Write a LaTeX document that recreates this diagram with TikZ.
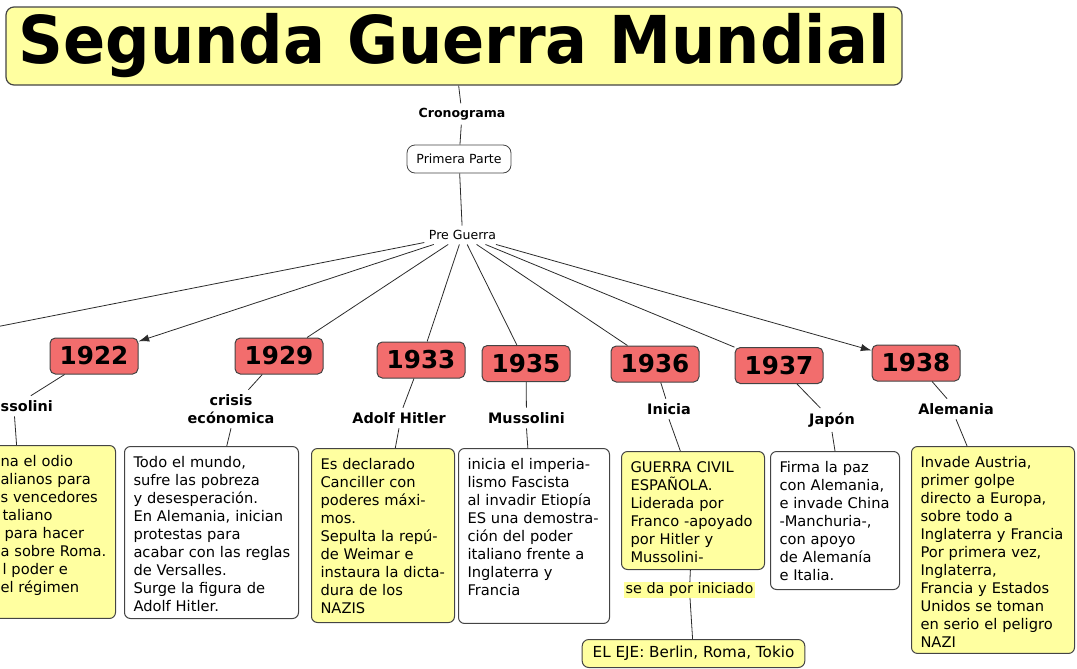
\documentclass[tikz,border=0pt]{standalone}
\usepackage{fontspec}
\setmainfont{DejaVu Sans}
\usetikzlibrary{arrows.meta}
\definecolor{yelc}{HTML}{FFFFA0}
\definecolor{hlc}{HTML}{FFFF99}
\definecolor{redc}{HTML}{F26D6D}
\definecolor{edgec}{HTML}{444444}
\definecolor{linec}{HTML}{2B2B2B}

\begin{document}
\hyphenpenalty=10000
\exhyphenpenalty=10000
\begin{tikzpicture}[x=0.75pt,y=-0.75pt,
      box/.style={draw=edgec,line width=0.75pt,rounded corners=4.5pt,anchor=north west,align=left,inner xsep=6.75pt,inner ysep=0pt,text height=16.1pt,font=\fontsize{11}{13.5}\selectfont},
      ybox/.style={box,fill=yelc},
      wbox/.style={box,fill=white},
      yearbox/.style={draw=edgec,fill=redc,line width=0.75pt,rounded corners=4pt,minimum width=66pt,minimum height=27pt,inner sep=0pt,font=\fontsize{18.5}{20}\selectfont\bfseries},
      topic/.style={align=center,font=\fontsize{10.8}{13.5}\selectfont\bfseries},
      small/.style={font=\fontsize{9.4}{11}\selectfont},
      conn/.style={draw=linec,line width=0.6pt},
      >={Latex[length=8pt,width=5.5pt]}]
    \useasboundingbox (0,0) rectangle (1077,668);
    \clip (0,0) rectangle (1077,668);

    \node[draw=edgec,fill=yelc,line width=0.9pt,rounded corners=6pt,minimum width=672pt,minimum height=58.5pt,inner sep=0pt,font=\fontsize{49.5}{50}\selectfont\bfseries] (title) at (454,46) {\scalebox{0.943}[1]{Segunda Guerra Mundial}};
    \node[small,font=\fontsize{9.4}{11}\selectfont\bfseries] (crono) at (462,114) {Cronograma};
    \node[small,draw=edgec,line width=0.6pt,rounded corners=6pt,minimum width=78pt,minimum height=21pt] (primera) at (459,159) {Primera Parte};
    \node[small] (pre) at (462.5,235) {Pre Guerra};

    \foreach \y/\xx/\yy in {1922/94/356,1929/279/356,1933/421/360,1935/526/363.5,1936/655/364,1937/779/365.5,1938/916/363}
      \node[yearbox] (y\y) at (\xx,\yy) {\y};

    \node[topic] (lbl22) at (14.5,406) {Mussolini};
    \node[topic] (lbl29) at (231,409) {crisis\\ecónomica};
    \node[topic] (lbl33) at (399,418) {Adolf Hitler};
    \node[topic] (lbl35) at (526.5,418) {Mussolini};
    \node[topic] (lbl36) at (669,409) {Inicia};
    \node[topic] (lbl37) at (832,420) {Japón};
    \node[topic] (lbl38) at (956,409) {Alemania};

    \node[ybox,text width=79.5pt,text depth=113.6pt] (box22) at (-9,445) {na el odio\\alianos para\\s vencedores\\\hspace*{1.5pt}taliano\\\hspace*{3pt}para hacer\\a~sobre~Roma.\\\hspace*{1.5pt}l poder e\\el régimen};
    \node[wbox,text width=117pt,text depth=112.9pt] (box29) at (124,446) {Todo el mundo,\\sufre las pobreza\\y desesperación.\\En Alemania, inician\\protestas para\\acabar~con~las~reglas\\de Versalles.\\Surge la figura de\\Adolf Hitler.};
    \node[ybox,text width=93.75pt,text depth=114.4pt] (box33) at (311,448) {Es declarado\\Canciller con\\poderes máxi-\\mos.\\Sepulta la repú-\\de Weimar e\\instaura~la~dicta-\\dura de los\\NAZIS};
    \node[wbox,text width=99.75pt,text depth=115.1pt] (box35) at (458,448) {inicia el imperia-\\lismo Fascista\\al invadir Etiopía\\ES~una~demostra-\\ción del poder\\italiano frente a\\Inglaterra y\\Francia};
    \node[ybox,text width=93.75pt,text depth=72.4pt] (box36) at (621,451) {GUERRA CIVIL\\ESPAÑOLA.\\Liderada por\\Franco~-apoyado\\por Hitler y\\Mussolini-};
    \node[wbox,text width=83.25pt,text depth=87.4pt] (box37) at (770,451) {Firma la paz\\con Alemania,\\e~invade~China\\-Manchuria-,\\con apoyo\\de Alemanía\\e Italia.};
    \node[ybox,text width=108.75pt,text depth=139.1pt] (box38) at (911,446) {Invade Austria,\\primer golpe\\directo a Europa,\\sobre todo a\\Inglaterra~y~Francia\\Por primera vez,\\Inglaterra,\\Francia y Estados\\Unidos se toman\\en serio el peligro\\NAZI};

    \node[fill=hlc,inner xsep=1.5pt,inner ysep=0.5pt,font=\fontsize{10.8}{12}\selectfont] (seda) at (689.5,590) {se da por iniciado};
    \node[draw=edgec,fill=yelc,line width=0.75pt,rounded corners=5pt,minimum width=167pt,minimum height=21pt,font=\fontsize{11.4}{13}\selectfont] (eje) at (693.5,653.5) {EL EJE: Berlin, Roma, Tokio};

    \coordinate (offleft) at (-60,338);

    \draw[conn] (title) -- (crono) -- (primera) -- (pre);
    \draw[conn] (pre) -- (offleft);
    \draw[conn,->] (pre) -- (y1922);
    \foreach \y in {1929,1933,1935,1936,1937}
      \draw[conn] (pre) -- (y\y);
    \draw[conn,->] (pre) -- (y1938);
    \foreach \y/\a in {22/113,29/80,33/82,35/94,36/102,37/90,38/104} {
      \draw[conn] (y19\y) -- (lbl\y);
      \draw[conn] (lbl\y.south) -- (box\y.\a);
    }
    \draw[conn] (box36) -- (seda) -- (eje);
  \end{tikzpicture}
\end{document}
